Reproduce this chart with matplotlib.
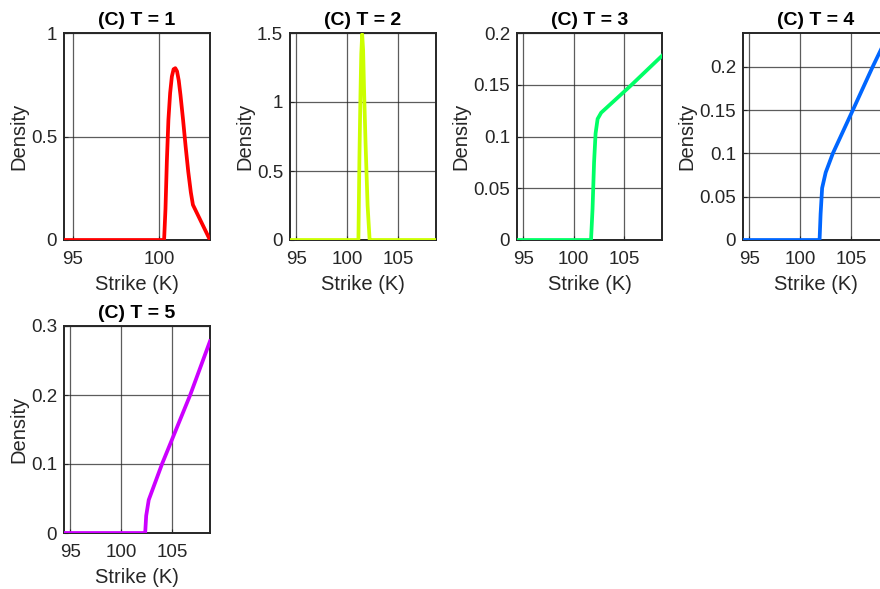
import matplotlib
matplotlib.use("Agg")
import matplotlib.pyplot as plt
from matplotlib.ticker import FuncFormatter

plt.rcParams['font.family'] = ['Liberation Sans', 'DejaVu Sans']

# strike grid / density values
k1 = [94.5, 100.3, 100.38, 100.46, 100.55, 100.65, 100.75, 100.85, 100.95, 101.05, 101.15,
      101.25, 101.4, 101.55, 101.7, 101.85, 101.97, 102.96]
d1 = [0, 0, 0.15, 0.38, 0.58, 0.71, 0.79, 0.825, 0.83, 0.815, 0.77,
      0.7, 0.58, 0.45, 0.33, 0.23, 0.17, 0]

k2 = [94.4, 101.1, 101.2, 101.3, 101.38, 101.47, 101.56, 101.65, 101.8, 102.0, 102.2, 102.3, 108.7]
d2 = [0, 0, 0.6, 1.05, 1.35, 1.49, 1.38, 1.1, 0.7, 0.25, 0.0, 0, 0]

k3 = [94.4, 101.7, 101.85, 102.0, 102.15, 102.35, 102.7, 105.6, 108.7]
d3 = [0, 0, 0.03, 0.075, 0.103, 0.117, 0.123, 0.149, 0.178]

k4 = [94.4, 101.9, 102.0, 102.15, 102.5, 103.2, 105.16, 107.1, 108.7]
d4 = [0, 0, 0.03, 0.06, 0.078, 0.1, 0.15, 0.2, 0.239]

k5 = [94.4, 102.35, 102.45, 102.7, 104.0, 106.76, 108.7]
d5 = [0, 0, 0.025, 0.048, 0.1, 0.2, 0.278]

strikes = [k1, k2, k3, k4, k5]
densities = [d1, d2, d3, d4, d5]
titles = ["(C) T = 1", "(C) T = 2", "(C) T = 3", "(C) T = 4", "(C) T = 5"]
colors = ["#FF0000", "#CCFF00", "#00FF66", "#0066FF", "#CC00FF"]
xticks = [[95, 100], [95, 100, 105], [95, 100, 105], [95, 100, 105], [95, 100, 105]]
yticks = [[0, 0.5, 1], [0, 0.5, 1, 1.5], [0, 0.05, 0.1, 0.15, 0.2],
          [0, 0.05, 0.1, 0.15, 0.2], [0, 0.1, 0.2, 0.3]]
ylims = [(0, 1), (0, 1.5), (0, 0.2), (0, 0.239), (0, 0.3)]

W, H = 880, 589
fig = plt.figure(figsize=(W / 100, H / 100), dpi=100)

# panel boxes in pixels: left, top, right, bottom
boxes = [(64, 33, 210, 240), (290, 33, 436, 240), (517, 33, 662, 240),
         (743, 33, 889, 240), (64, 326, 210, 533)]

fmt = FuncFormatter(lambda v, p: ('%g' % round(v, 4)))

for i in range(5):
    l, t, r, b = boxes[i]
    ax = fig.add_axes([l / W, (H - b) / H, (r - l) / W, (b - t) / H])
    ax.plot(strikes[i], densities[i], color=colors[i], linewidth=2.7, zorder=3)
    ax.set_xlim(strikes[i][0], strikes[i][-1])
    ax.set_ylim(*ylims[i])
    ax.set_xticks(xticks[i])
    ax.set_yticks(yticks[i])
    ax.yaxis.set_major_formatter(fmt)
    ax.grid(True, color='#262626', linewidth=0.9, alpha=0.75)
    ax.set_axisbelow(True)
    for s in ax.spines.values():
        s.set_linewidth(1.4)
        s.set_color('#262626')
    ax.tick_params(direction='in', length=3, width=0.8, labelsize=13.5,
                   colors='#262626')
    ax.tick_params(axis='x', pad=8)
    ax.tick_params(axis='y', pad=5)
    ax.set_title(titles[i], fontsize=14, fontweight='bold', pad=6)
    ax.set_xlabel("Strike (K)", fontsize=14.5, color='#262626', labelpad=5)
    ax.set_ylabel("Density", fontsize=14.5, color='#262626', labelpad=2)

fig.savefig("out.png", dpi=100)
